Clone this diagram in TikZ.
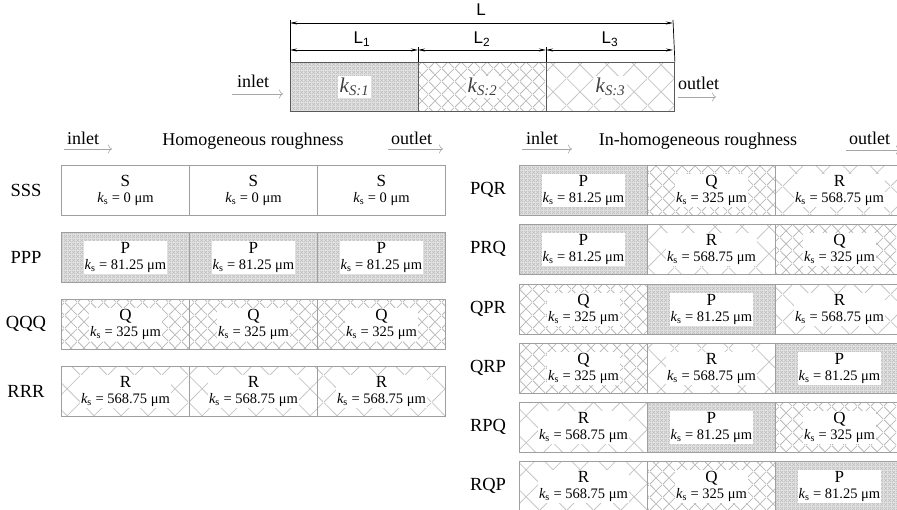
\documentclass[tikz,border=0pt]{standalone}
\usepackage{fontspec}
\setmainfont{Liberation Serif}
\newfontfamily\sansf{Liberation Sans}
\usetikzlibrary{arrows.meta,patterns,patterns.meta}

\pgfdeclarepattern{name=Phatch, type=uncolored,
  bottom left={\pgfpoint{0pt}{0pt}}, top right={\pgfpoint{4pt}{4pt}},
  tile size={\pgfpoint{4pt}{4pt}},
  code={\pgfsetlinewidth{0.7pt}
    \pgfpathmoveto{\pgfpoint{0pt}{0pt}}\pgfpathlineto{\pgfpoint{4pt}{4pt}}
    \pgfpathmoveto{\pgfpoint{0pt}{4pt}}\pgfpathlineto{\pgfpoint{4pt}{0pt}}
    \pgfusepath{stroke}}}
\pgfdeclarepattern{name=Qhatch, type=uncolored,
  bottom left={\pgfpoint{0pt}{0pt}}, top right={\pgfpoint{13pt}{13pt}},
  tile size={\pgfpoint{13pt}{13pt}},
  code={\pgfsetlinewidth{0.8pt}
    \pgfpathmoveto{\pgfpoint{0pt}{0pt}}\pgfpathlineto{\pgfpoint{13pt}{13pt}}
    \pgfpathmoveto{\pgfpoint{0pt}{13pt}}\pgfpathlineto{\pgfpoint{13pt}{0pt}}
    \pgfusepath{stroke}}}
\pgfdeclarepattern{name=Rhatch, type=uncolored,
  bottom left={\pgfpoint{0pt}{0pt}}, top right={\pgfpoint{27pt}{27pt}},
  tile size={\pgfpoint{27pt}{27pt}},
  code={\pgfsetlinewidth{0.8pt}
    \pgfpathmoveto{\pgfpoint{0pt}{0pt}}\pgfpathlineto{\pgfpoint{27pt}{27pt}}
    \pgfpathmoveto{\pgfpoint{0pt}{27pt}}\pgfpathlineto{\pgfpoint{27pt}{0pt}}
    \pgfusepath{stroke}}}

\newcommand\txtS{{\fontsize{17}{14}\selectfont S}\\{\itshape k}\textsubscript{s} = 0 μm}
\newcommand\txtP{{\fontsize{17}{14}\selectfont P}\\{\itshape k}\textsubscript{s} = 81.25 μm}
\newcommand\txtQ{{\fontsize{17}{14}\selectfont Q}\\{\itshape k}\textsubscript{s} = 325 μm}
\newcommand\txtR{{\fontsize{17}{14}\selectfont R}\\{\itshape k}\textsubscript{s} = 568.75 μm}
% name, x, y(top), type
\newcommand\mycell[4]{%
  \node[cellbox, #4fill] (#1) at (#2,#3) {};
  \node[ctxt] (#1-t) at (#1.center) {\csname txt#4\endcsname};}
% row name, top y, x0, label x, A, B, C
\newcommand\myrow[7]{%
  \node[rowlab] (#1-lab) at (#4,#2+25) {#1};
  \mycell{#1-1}{#3}{#2}{#5}
  \mycell{#1-2}{#3+128}{#2}{#6}
  \mycell{#1-3}{#3+256}{#2}{#7}}

\begin{document}
\begin{tikzpicture}[x=1pt,y=-1pt,
  cellbox/.style={draw=gray!75, line width=0.9pt, minimum width=128pt,
    minimum height=50pt, inner sep=0pt, anchor=north west},
  topbox/.style={draw=black!65, line width=0.9pt, minimum width=128pt,
    minimum height=49pt, inner sep=0pt, anchor=north west},
  Sfill/.style={fill=white},
  Pfill/.style={preaction={fill=gray!22}, pattern=Phatch, pattern color=gray!52},
  Qfill/.style={pattern=Qhatch, pattern color=gray!55},
  Rfill/.style={pattern=Rhatch, pattern color=gray!45},
  ctxt/.style={fill=white, inner sep=1pt, align=center,
    font=\fontsize{14.5}{16}\selectfont},
  ktxt/.style={fill=white, inner sep=2pt, font=\fontsize{21}{21}\selectfont\itshape, text=black!75},
  rowlab/.style={font=\fontsize{18.5}{18}\selectfont},
  hdr/.style={font=\fontsize{18}{18}\selectfont},
  dimlab/.style={font=\sansf\fontsize{17}{17}\selectfont},
  dim/.style={{Stealth[length=7pt,width=3pt]}-{Stealth[length=7pt,width=3pt]}, line width=0.7pt},
  ext/.style={line width=0.7pt},
  flow/.style={draw=gray!70, line width=0.6pt, -{Computer Modern Rightarrow[length=4pt,width=9pt]}}
]
\useasboundingbox (0,0) rectangle (897,510);

% ---------- top schematic ----------
\node[topbox, Pfill] (top1) at (290,62) {};
\node[topbox, Qfill] (top2) at (418,62) {};
\node[topbox, Rfill] (top3) at (546,62) {};
\node[ktxt] (k1) at (top1.center) {k\textsubscript{S:1}};
\node[ktxt] (k2) at (top2.center) {k\textsubscript{S:2}};
\node[ktxt] (k3) at (top3.center) {k\textsubscript{S:3}};

\coordinate (eL) at (290,20);
\coordinate (eR) at (673,20);
\coordinate (e2) at (418,47);
\coordinate (e3) at (546,47);
\draw[ext] (top1.north west) -- (eL);
\draw[ext] (top3.north east) -- (eR);
\draw[ext] (top2.north west) -- (e2);
\draw[ext] (top3.north west) -- (e3);

\coordinate (dLa) at (290,23);
\coordinate (dLb) at (673,23);
\coordinate (d1a) at (290,50);
\coordinate (d1b) at (418,50);
\coordinate (d2b) at (546,50);
\coordinate (d3b) at (673,50);
\draw[dim] (dLa) -- (dLb);
\draw[dim] (d1a) -- (d1b);
\draw[dim] (d1b) -- (d2b);
\draw[dim] (d2b) -- (d3b);
\node[dimlab] (labL) at (481,10) {L};
\node[dimlab] (labL1) at (362,39) {L\textsubscript{1}};
\node[dimlab] (labL2) at (482,39) {L\textsubscript{2}};
\node[dimlab] (labL3) at (610,39) {L\textsubscript{3}};

\node[hdr, anchor=base west, inner sep=0pt] (tin) at (237,88) {inlet};
\coordinate (tina) at (232,94);
\coordinate (tinb) at (283,94);
\draw[flow] (tina) -- (tinb);
\node[hdr, anchor=base west, inner sep=0pt] (tout) at (678,90) {outlet};
\coordinate (touta) at (678,97);
\coordinate (toutb) at (716,97);
\draw[flow] (touta) -- (toutb);

% ---------- left: homogeneous ----------
\node[hdr, anchor=base west, inner sep=0pt] (lin) at (67,145) {inlet};
\coordinate (lina) at (64,149);
\coordinate (linb) at (112,149);
\draw[flow] (lina) -- (linb);
\node[hdr] (lhead) at (253,141) {Homogeneous roughness};
\node[hdr, anchor=base west, inner sep=0pt] (lout) at (391,145) {outlet};
\coordinate (louta) at (388,149);
\coordinate (loutb) at (443,149);
\draw[flow] (louta) -- (loutb);

\myrow{SSS}{165}{61}{26}{S}{S}{S}
\myrow{PPP}{232}{61}{26}{P}{P}{P}
\myrow{QQQ}{299}{61}{26}{Q}{Q}{Q}
\myrow{RRR}{366}{61}{26}{R}{R}{R}

% ---------- right: in-homogeneous ----------
\node[hdr, anchor=base west, inner sep=0pt] (rin) at (526,145) {inlet};
\coordinate (rina) at (522,149);
\coordinate (rinb) at (572,149);
\draw[flow] (rina) -- (rinb);
\node[hdr] (rhead) at (698,141) {In-homogeneous roughness};
\node[hdr, anchor=base west, inner sep=0pt] (rout) at (849,145) {outlet};
\coordinate (routa) at (846,150);
\coordinate (routb) at (900,150);
\draw[flow] (routa) -- (routb);

\myrow{PQR}{165}{519}{488}{P}{Q}{R}
\myrow{PRQ}{224}{519}{488}{P}{R}{Q}
\myrow{QPR}{284}{519}{488}{Q}{P}{R}
\myrow{QRP}{343}{519}{488}{Q}{R}{P}
\myrow{RPQ}{402}{519}{488}{R}{P}{Q}
\myrow{RQP}{461}{519}{488}{R}{Q}{P}
\end{tikzpicture}
\end{document}
